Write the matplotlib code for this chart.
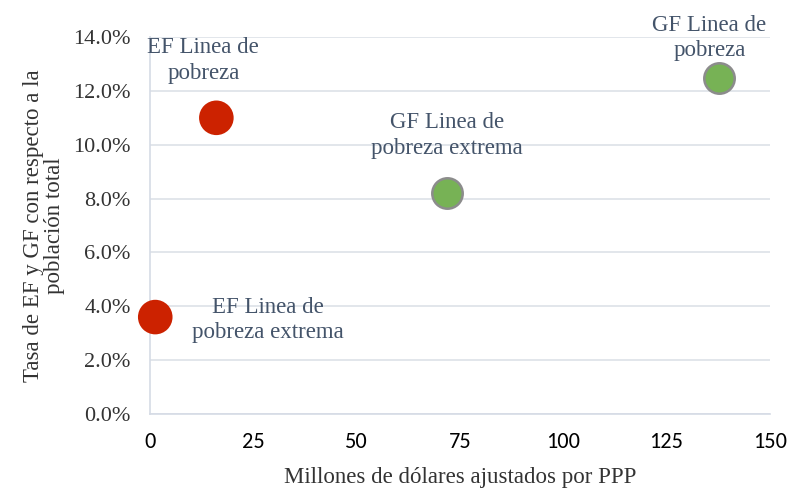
import numpy as np
import matplotlib.pyplot as plt
from matplotlib.ticker import PercentFormatter

# data
labels = ["EF Linea de\npobreza extrema", "EF Linea de\npobreza",
          "GF Linea de\npobreza extrema", "GF Linea de\npobreza"]
millones = [1.2, 16.0, 71.8, 137.8]
tasa = [0.036, 0.110, 0.0822, 0.1248]
colores = ["#C00000", "#C00000", "#70AD47", "#70AD47"]
# label offsets in pixels from the point (layout only)
offsets = [(113, -3), (-13, 57), (0, 57), (-10, 40)]

serif = ["Liberation Serif", "DejaVu Serif"]
txt_col = "#44546A"

fig = plt.figure(figsize=(7.91, 4.95), dpi=100)
ax = fig.add_axes([0.190, 0.1636, 0.783, 0.7616])

red = [i for i, c in enumerate(colores) if c == "#C00000"]
grn = [i for i, c in enumerate(colores) if c != "#C00000"]
ax.scatter([millones[i] for i in red], [tasa[i] for i in red], s=620,
           color="#CC2200", edgecolors="none", zorder=3, clip_on=False)
ax.scatter([millones[i] for i in grn], [tasa[i] for i in grn], s=480,
           color="#77B255", edgecolors="#8C8C8C", linewidths=1.8, zorder=3, clip_on=False)

for lab, x, y, off in zip(labels, millones, tasa, offsets):
    ax.annotate(lab, (x, y), xytext=(off[0] * 0.72, off[1] * 0.72),
                textcoords="offset points", ha="center", va="center",
                fontsize=16.5, family=serif, color=txt_col, linespacing=1.3)

ax.set_xlim(0, 150)
ax.set_ylim(0, 0.14)
ax.set_xticks(np.arange(0, 151, 25))
ax.set_yticks(np.arange(0, 0.141, 0.02))
ax.yaxis.set_major_formatter(PercentFormatter(1.0, decimals=1))
ax.grid(axis="y", color="#DDE1E8", linewidth=1.2)
ax.set_axisbelow(True)
for s in ["top", "right"]:
    ax.spines[s].set_visible(False)
for s in ["left", "bottom"]:
    ax.spines[s].set_color("#D5DBE5")
    ax.spines[s].set_linewidth(1.2)
ax.tick_params(length=0)
ax.tick_params(axis="x", pad=13, labelsize=16, labelcolor="black")
for t in ax.get_xticklabels():
    t.set_family(["Carlito", "Liberation Sans", "DejaVu Sans"])
ax.tick_params(axis="y", pad=14, labelsize=16, labelcolor="#333333")
for t in ax.get_yticklabels():
    t.set_family(serif)

ax.set_xlabel("Millones de dólares ajustados por PPP", family=serif,
              fontsize=16.5, color="#333333", labelpad=11)
ax.set_ylabel("Tasa de EF y GF con respecto a la\npoblación total", family=serif,
              fontsize=16.5, color="#333333", labelpad=6, linespacing=1.0)

fig.savefig("out.png", dpi=100)
